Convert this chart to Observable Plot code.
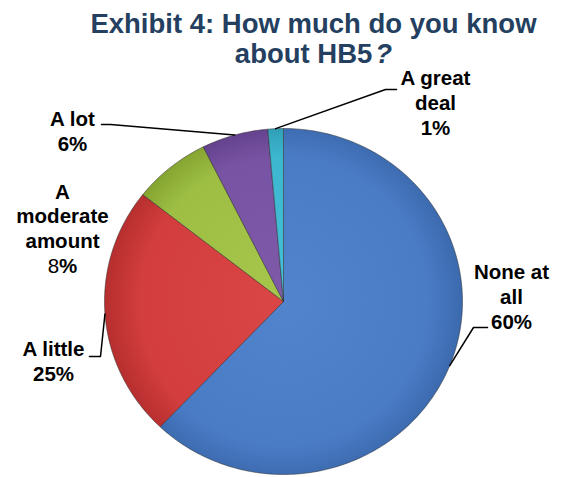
<!DOCTYPE html>
<html>
<head>
<meta charset="utf-8">
<script src="https://cdn.jsdelivr.net/npm/d3@7"></script>
<script src="https://cdn.jsdelivr.net/npm/@observablehq/plot@0.6"></script>
<style>
  html, body { margin: 0; padding: 0; background: #fff; }
  #chart { width: 561px; height: 477px; }
</style>
</head>
<body>
<div id="chart"></div>
<script>
// ---- data ----
const categories = ["None at all", "A little", "A moderate amount", "A lot", "A great deal"];
const shares = [62.1, 23.5, 7.0, 6.0, 1.4];               // slice sizes as drawn
const percentLabels = ["60%", "25%", "8%", "6%", "1%"];     // labels as printed
const labelNames = ["None at\nall", "A little", "A\nmoderate\namount", "A lot", "A great\ndeal"];
const titleText = "Exhibit 4: How much do you know\nabout HB5?";

// ---- styles ----
const gradientStops = [
  ["#5184cd", "#4a7cc6", "#3b69ad"],
  ["#da4545", "#d33d3d", "#b52e2e"],
  ["#a6c64c", "#9dbe43", "#82a12f"],
  ["#7f5aa9", "#7853a3", "#613f8a"],
  ["#46c0d8", "#3db7d0", "#2d99b0"]
];

// ---- layout (pixels) ----
const labelLayout = [
  {cx: 511, base: 328, lead: [[487, 327], [473, 327]]},
  {cx: 53,  base: 380, lead: [[89, 356], [100, 356]]},
  {cx: 62,  base: 272, lead: null},
  {cx: 72,  base: 150, lead: [[101, 124], [110, 124]]},
  {cx: 435, base: 134, lead: [[396, 89], [385, 89]]}
];
const titleLayout = {cx: 313, base: 62};

const xOpts = {domain: [-1, 1], range: [104, 462]};
const yOpts = {domain: [-1, 1], range: [474, 128]};
const X = Plot.scale({x: xOpts});
const Y = Plot.scale({y: yOpts});

// ---- slices ----
const arcs = d3.pie().sort(null).value(d => d)(shares);
const slicePts = arcs.flatMap((a, i) => {
  const key = categories[i];
  const pts = [{key, x: 0, y: 0}];
  const n = Math.max(2, Math.ceil((a.endAngle - a.startAngle) / (Math.PI / 180)));
  for (let k = 0; k <= n; k++) {
    const t = a.startAngle + (a.endAngle - a.startAngle) * k / n;
    pts.push({key, x: Math.sin(t), y: Math.cos(t)});
  }
  pts.push({key, x: 0, y: 0});
  return pts;
});

// ---- labels ----
const labelData = categories.map((c, i) => ({
  key: c,
  text: labelNames[i] + "\n" + percentLabels[i],
  x: X.invert(labelLayout[i].cx),
  y: Y.invert(labelLayout[i].base)
}));

const leaderPts = categories.flatMap((c, i) => {
  const L = labelLayout[i];
  if (!L.lead) return [];
  const mid = (arcs[i].startAngle + arcs[i].endAngle) / 2;
  return [
    ...L.lead.map(([px, py]) => ({key: c, x: X.invert(px), y: Y.invert(py)})),
    {key: c, x: Math.sin(mid), y: Math.cos(mid)}
  ];
});

const font = "'Liberation Sans', Arial, Helvetica, sans-serif";

const chart = Plot.plot({
  width: 561,
  height: 477,
  margin: 0,
  style: {background: "#fff", fontFamily: font},
  x: {...xOpts, axis: null},
  y: {...yOpts, axis: null},
  color: {domain: categories, range: categories.map((_, i) => `url(#slice-grad-${i})`)},
  marks: [
    Plot.line(slicePts, {x: "x", y: "y", z: "key", fill: "key", stroke: "#2b2b2b", strokeOpacity: 0.5, strokeWidth: 1, curve: "linear"}),
    Plot.line(leaderPts, {x: "x", y: "y", z: "key", stroke: "#000", strokeWidth: 1.5, curve: "linear"}),
    Plot.text(labelData, {x: "x", y: "y", text: "text", lineAnchor: "bottom", lineHeight: 1.2,
      fontSize: 20.5, fontWeight: "bold", fill: "#000", fontFamily: font}),
    Plot.text([titleText], {x: () => X.invert(titleLayout.cx), y: () => Y.invert(titleLayout.base),
      text: d => d, lineAnchor: "bottom", lineHeight: 1.09, fontSize: 27.5, fontWeight: "bold",
      fill: "#243F60", fontFamily: font})
  ]
});

// gradient definitions for the slice fills
const svg = d3.select(chart);
const defs = svg.insert("defs", ":first-child");
const cx = X.apply(0), cy = Y.apply(0);
gradientStops.forEach((stops, i) => {
  const g = defs.append("radialGradient")
    .attr("id", `slice-grad-${i}`)
    .attr("gradientUnits", "userSpaceOnUse")
    .attr("cx", cx).attr("cy", cy).attr("r", 180);
  g.append("stop").attr("offset", "0%").attr("stop-color", stops[0]);
  g.append("stop").attr("offset", "80%").attr("stop-color", stops[1]);
  g.append("stop").attr("offset", "100%").attr("stop-color", stops[2]);
});

// typographic details
svg.selectAll("tspan").filter(function () { return this.textContent === "about HB5?"; })
  .each(function () {
    const t = d3.select(this);
    t.text("about HB5");
    t.append("tspan").attr("dx", 3).attr("font-style", "italic").text("?");
  });
svg.selectAll("tspan").filter(function () { return this.textContent === "8%"; })
  .each(function () {
    const t = d3.select(this);
    t.text("");
    t.append("tspan").attr("font-weight", "normal").text("8");
    t.append("tspan").text("%");
  });

document.getElementById("chart").appendChild(chart);
</script>
</body>
</html>
